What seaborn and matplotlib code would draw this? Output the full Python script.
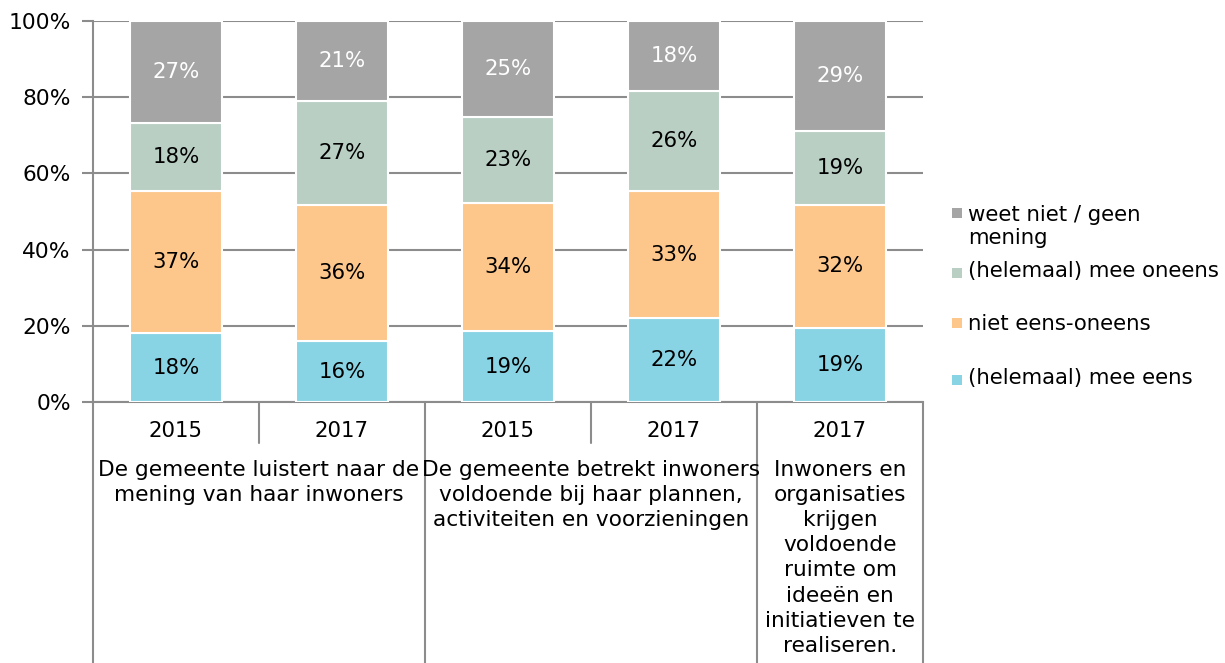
import matplotlib
matplotlib.use("Agg")
import matplotlib.pyplot as plt
from matplotlib.patches import Rectangle
import matplotlib.transforms as mtransforms
import numpy as np
import pandas as pd
import seaborn as sns

# Survey results per statement and year (percentages)
years = ["2015", "2017", "2015", "2017", "2017"]
statements = [
    "De gemeente luistert naar de\nmening van haar inwoners",
    "De gemeente betrekt inwoners\nvoldoende bij haar plannen,\nactiviteiten en voorzieningen",
    "Inwoners en\norganisaties\nkrijgen\nvoldoende\nruimte om\nideeën en\ninitiatieven te\nrealiseren.",
]
bars_per_statement = [2, 2, 1]

series = ["(helemaal) mee eens", "niet eens-oneens",
          "(helemaal) mee oneens", "weet niet / geen\nmening"]
mee_eens = [18.1, 16.0, 18.6, 22.0, 19.4]
neutraal = [37.3, 35.7, 33.6, 33.4, 32.4]
mee_oneens = [17.8, 27.3, 22.6, 26.2, 19.3]
weet_niet = [26.8, 21.0, 25.2, 18.4, 28.9]

colors = ["#88D4E4", "#FDC68B", "#B9CFC4", "#A5A5A5"]
text_colors = ["black", "black", "black", "white"]
grid_color = "#8C8C8C"

sns.set_theme(style="white")
plt.rcParams["font.family"] = ["DejaVu Sans"]
plt.rcParams["text.color"] = "black"
FS = 15.3

W, H = 1225, 663
fig = plt.figure(figsize=(W / 100, H / 100), dpi=100)
ax = fig.add_axes([93 / W, 261 / H, 830 / W, 381 / H])

positions = list(range(len(years)))
layers = [mee_eens, neutraal, mee_oneens, weet_niet]
bottom = np.zeros(len(years))
for vals, col, tcol in zip(layers, colors, text_colors):
    df = pd.DataFrame({"pos": positions, "val": vals})
    sns.barplot(data=df, x="pos", y="val", order=positions, color=col,
                saturation=1, width=0.55, bottom=bottom, edgecolor="white",
                linewidth=1.5, ax=ax, zorder=3)
    for x, v, b in zip(positions, vals, bottom):
        ax.text(x, b + v / 2, f"{round(v):.0f}%", ha="center", va="center",
                fontsize=FS, color=tcol, zorder=4)
    bottom = bottom + np.array(vals)

ax.set_xlim(-0.5, len(years) - 0.5)
ax.set_ylim(0, 100)
ax.set_yticks([0, 20, 40, 60, 80, 100])
ax.set_yticklabels([f"{t}%" for t in [0, 20, 40, 60, 80, 100]],
                   fontsize=FS + 0.4)
ax.set_xticks([])
ax.set_xlabel("")
ax.set_ylabel("")
ax.yaxis.grid(True, color=grid_color, linewidth=1.5, zorder=0)
ax.set_axisbelow(True)
ax.tick_params(axis="y", which="both", left=True, length=8, width=1.5,
               color=grid_color, pad=8, labelcolor="black")
for side in ["top", "right"]:
    ax.spines[side].set_visible(False)
for side in ["left", "bottom"]:
    ax.spines[side].set_color(grid_color)
    ax.spines[side].set_linewidth(1.5)

# Category axis below the plot: year row and statement groups
trans = mtransforms.blended_transform_factory(ax.transData, ax.transAxes)
px = 1 / 381.0
y_short = -41 * px
y_floor = -262 * px
for i, y in enumerate(years):
    ax.text(i, -29 * px, y, ha="center", va="center", fontsize=FS,
            transform=trans, clip_on=False)

edges = np.cumsum([0] + bars_per_statement) - 0.5
for e in edges:
    ax.plot([e, e], [0, y_floor], color=grid_color, lw=1.5,
            transform=trans, clip_on=False)
for start, n in zip(edges[:-1], bars_per_statement):
    for k in range(1, n):
        ax.plot([start + k, start + k], [0, y_short], color=grid_color,
                lw=1.5, transform=trans, clip_on=False)
for start, end, label in zip(edges[:-1], edges[1:], statements):
    ax.text((start + end) / 2, -58 * px, label, ha="center", va="top",
            fontsize=FS + 0.3, linespacing=1.32, transform=trans,
            clip_on=False)

# Legend on the right, top entry first
square_rows = [213, 273, 323, 380]
text_tops = [205, 261, 314, 368]
for (name, col), srow, ttop in zip(list(zip(series, colors))[::-1],
                                   square_rows, text_tops):
    fig.patches.append(Rectangle((952 / W, 1 - (srow + 5) / H), 10 / W, 10 / H,
                                 facecolor=col, edgecolor="none",
                                 transform=fig.transFigure, figure=fig))
    fig.text(968 / W, 1 - ttop / H, name, ha="left", va="top",
             fontsize=FS, linespacing=1.2)

fig.savefig("out.png", dpi=100)
